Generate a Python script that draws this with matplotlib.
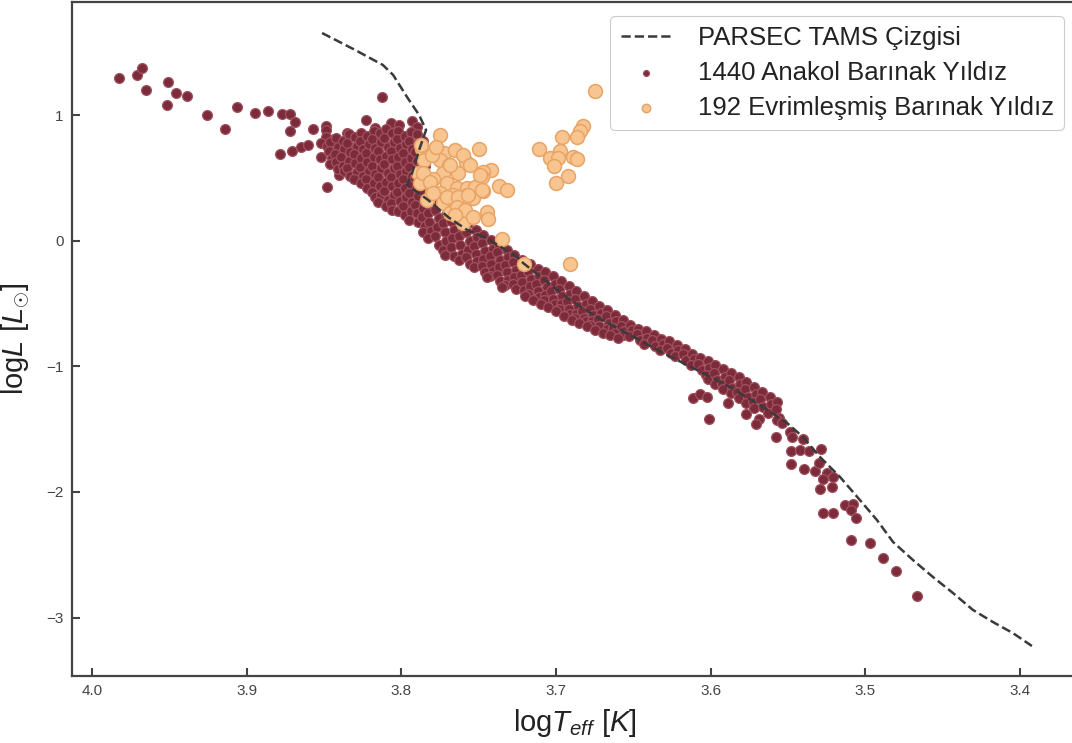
import matplotlib
matplotlib.use("Agg")
import matplotlib.pyplot as plt
import numpy as np

# PARSEC TAMS line (logTeff, logL)
tams_logt = [3.8513, 3.830, 3.812, 3.8054, 3.7964, 3.7886, 3.7841, 3.7886, 3.7931,
             3.7964, 3.7828, 3.7699, 3.7576, 3.7453, 3.7253, 3.7214, 3.691, 3.6736,
             3.6522, 3.6309, 3.6089, 3.5876, 3.5663, 3.5507, 3.5404, 3.5294, 3.5165,
             3.5036, 3.4926, 3.4822, 3.4693, 3.4564, 3.4434, 3.4305, 3.4176, 3.4047,
             3.3924]
tams_logl = [1.657, 1.522, 1.402, 1.323, 1.147, 1.004, 0.884, 0.725, 0.542,
             0.446, 0.327, 0.191, 0.088, 0.024, -0.127, -0.175, -0.470, -0.606,
             -0.749, -0.892, -1.028, -1.163, -1.323, -1.450, -1.562, -1.721, -1.880,
             -2.064, -2.223, -2.398, -2.542, -2.677, -2.805, -2.940, -3.036, -3.124,
             -3.227]

# hot, luminous main-sequence stragglers
hot_stars = [
    (3.9825, 1.299), (3.9709, 1.323), (3.9677, 1.378), (3.9651, 1.203), (3.9509, 1.267),
    (3.9515, 1.084), (3.9457, 1.179), (3.9386, 1.155), (3.9257, 1.004), (3.914, 0.892),
    (3.9063, 1.068), (3.8946, 1.020), (3.8862, 1.036), (3.8772, 1.012), (3.872, 1.012),
    (3.8688, 0.948), (3.872, 0.876), (3.8785, 0.693), (3.8707, 0.717), (3.8649, 0.749),
    (3.8604, 0.765), (3.8571, 0.892), (3.8487, 0.916), (3.8487, 0.884), (3.8487, 0.829),
    (3.852, 0.781), (3.8481, 0.757), (3.8436, 0.813), (3.852, 0.669), (3.8481, 0.430),
    (3.8403, 0.526), (3.8125, 1.147), (3.8229, 0.964), (3.8067, 0.940), (3.8015, 0.924),
    (3.7931, 0.956), (3.7899, 0.908), (3.8110, 0.870), (3.8170, 0.900), (3.8350, 0.860),
]

# dense upper part of the main sequence
upper_core = [
    (3.846, 0.79), (3.847, 0.72), (3.845, 0.66), (3.846, 0.61),
    (3.842, 0.82), (3.841, 0.75), (3.843, 0.69), (3.842, 0.63), (3.841, 0.57),
    (3.838, 0.80), (3.837, 0.73), (3.839, 0.67), (3.838, 0.60), (3.837, 0.56),
    (3.834, 0.85), (3.835, 0.78), (3.833, 0.71), (3.834, 0.64), (3.835, 0.58), (3.833, 0.52),
    (3.830, 0.83), (3.829, 0.76), (3.831, 0.69), (3.830, 0.62), (3.829, 0.55), (3.831, 0.49),
    (3.826, 0.86), (3.827, 0.80), (3.825, 0.73), (3.826, 0.66), (3.827, 0.59), (3.825, 0.52),
    (3.826, 0.46),
    (3.822, 0.84), (3.821, 0.77), (3.823, 0.70), (3.822, 0.63), (3.821, 0.56), (3.823, 0.49),
    (3.822, 0.42),
    (3.818, 0.88), (3.819, 0.81), (3.817, 0.74), (3.818, 0.67), (3.819, 0.60), (3.817, 0.53),
    (3.818, 0.46), (3.819, 0.39), (3.817, 0.35),
    (3.814, 0.86), (3.813, 0.79), (3.815, 0.72), (3.814, 0.65), (3.813, 0.58), (3.815, 0.51),
    (3.814, 0.44), (3.813, 0.37), (3.815, 0.31),
    (3.810, 0.89), (3.811, 0.82), (3.809, 0.75), (3.810, 0.68), (3.811, 0.61), (3.809, 0.54),
    (3.810, 0.47), (3.811, 0.40), (3.809, 0.33), (3.810, 0.28),
    (3.806, 0.86), (3.805, 0.79), (3.807, 0.72), (3.806, 0.65), (3.805, 0.58), (3.807, 0.51),
    (3.806, 0.44), (3.805, 0.37), (3.807, 0.30), (3.806, 0.25),
    (3.802, 0.88), (3.803, 0.81), (3.801, 0.74), (3.802, 0.67), (3.803, 0.60), (3.801, 0.53),
    (3.802, 0.46), (3.803, 0.39), (3.801, 0.32), (3.802, 0.24),
    (3.798, 0.84), (3.797, 0.77), (3.799, 0.70), (3.798, 0.63), (3.797, 0.56), (3.799, 0.49),
    (3.798, 0.42), (3.797, 0.35), (3.799, 0.28), (3.798, 0.21),
    (3.794, 0.87), (3.795, 0.80), (3.793, 0.73), (3.794, 0.66), (3.795, 0.59), (3.793, 0.52),
    (3.794, 0.45), (3.795, 0.38), (3.793, 0.31), (3.794, 0.24), (3.795, 0.17),
    (3.790, 0.85), (3.789, 0.78), (3.791, 0.71), (3.790, 0.64), (3.789, 0.57), (3.791, 0.50),
    (3.790, 0.43), (3.789, 0.36), (3.791, 0.29), (3.790, 0.22), (3.789, 0.15),
    (3.786, 0.80), (3.787, 0.72), (3.785, 0.60), (3.786, 0.48), (3.787, 0.40), (3.785, 0.33),
    (3.786, 0.26), (3.787, 0.19), (3.785, 0.12), (3.786, 0.07),
]

# main-sequence band towards the cool end
band_core = [
    (3.782, 0.36), (3.781, 0.29), (3.783, 0.22), (3.782, 0.15), (3.781, 0.08), (3.783, 0.02),
    (3.777, 0.32), (3.778, 0.25), (3.776, 0.18), (3.777, 0.11), (3.778, 0.04), (3.776, -0.03),
    (3.772, 0.28), (3.771, 0.21), (3.773, 0.14), (3.772, 0.07), (3.771, 0.00), (3.773, -0.07),
    (3.772, -0.11),
    (3.767, 0.23), (3.768, 0.16), (3.766, 0.09), (3.767, 0.02), (3.768, -0.05), (3.766, -0.12),
    (3.762, 0.18), (3.761, 0.11), (3.763, 0.04), (3.762, -0.03), (3.761, -0.10), (3.763, -0.15),
    (3.757, 0.14), (3.758, 0.07), (3.756, 0.00), (3.757, -0.07), (3.758, -0.13), (3.756, -0.18),
    (3.752, 0.09), (3.751, 0.03), (3.753, -0.04), (3.752, -0.10), (3.751, -0.16), (3.753, -0.21),
    (3.747, 0.05), (3.748, -0.02), (3.746, -0.08), (3.747, -0.14), (3.748, -0.20), (3.746, -0.25),
    (3.742, 0.01), (3.741, -0.06), (3.743, -0.12), (3.742, -0.18), (3.741, -0.24), (3.743, -0.28),
    (3.737, -0.03), (3.738, -0.09), (3.736, -0.15), (3.737, -0.21), (3.738, -0.27), (3.736, -0.32),
    (3.732, -0.07), (3.731, -0.13), (3.733, -0.19), (3.732, -0.25), (3.731, -0.31), (3.733, -0.35),
    (3.727, -0.11), (3.728, -0.17), (3.726, -0.23), (3.727, -0.29), (3.728, -0.34), (3.726, -0.38),
    (3.722, -0.15), (3.721, -0.21), (3.723, -0.27), (3.722, -0.33), (3.721, -0.39),
    (3.717, -0.18), (3.718, -0.24), (3.716, -0.30), (3.717, -0.36), (3.718, -0.42),
    (3.712, -0.22), (3.711, -0.28), (3.713, -0.34), (3.712, -0.40), (3.711, -0.45),
    (3.707, -0.25), (3.708, -0.31), (3.706, -0.37), (3.707, -0.43), (3.708, -0.47),
    (3.702, -0.28), (3.701, -0.34), (3.703, -0.40), (3.702, -0.46), (3.701, -0.50),
    (3.697, -0.32), (3.698, -0.38), (3.696, -0.44), (3.697, -0.50), (3.698, -0.54),
    (3.692, -0.36), (3.691, -0.42), (3.693, -0.48), (3.692, -0.54), (3.691, -0.58),
    (3.687, -0.40), (3.688, -0.46), (3.686, -0.52), (3.687, -0.58), (3.688, -0.61),
    (3.682, -0.44), (3.681, -0.50), (3.683, -0.56), (3.682, -0.61), (3.681, -0.64),
    (3.677, -0.48), (3.678, -0.54), (3.676, -0.59), (3.677, -0.64), (3.678, -0.67),
    (3.672, -0.52), (3.671, -0.57), (3.673, -0.62), (3.672, -0.68),
    (3.667, -0.55), (3.668, -0.60), (3.666, -0.65), (3.667, -0.70),
    (3.662, -0.59), (3.661, -0.64), (3.663, -0.69), (3.662, -0.73),
    (3.657, -0.63), (3.658, -0.68), (3.656, -0.72), (3.657, -0.75),
    (3.652, -0.67), (3.651, -0.71), (3.653, -0.76),
    (3.647, -0.70), (3.648, -0.74), (3.646, -0.79),
    (3.642, -0.72), (3.641, -0.77), (3.643, -0.82),
    (3.637, -0.75), (3.638, -0.79), (3.636, -0.84),
    (3.632, -0.78), (3.631, -0.82), (3.633, -0.87),
    (3.627, -0.80), (3.628, -0.85), (3.626, -0.89),
    (3.622, -0.83), (3.621, -0.87), (3.623, -0.92),
    (3.617, -0.86), (3.618, -0.90), (3.616, -0.95),
    (3.612, -0.90), (3.611, -0.94), (3.613, -0.99),
    (3.607, -0.93), (3.608, -0.98), (3.606, -1.03),
    (3.602, -0.96), (3.601, -1.01), (3.603, -1.07), (3.602, -1.10),
    (3.597, -0.99), (3.598, -1.05), (3.596, -1.11), (3.597, -1.14),
    (3.592, -1.02), (3.591, -1.08), (3.593, -1.14), (3.592, -1.18),
    (3.587, -1.05), (3.588, -1.11), (3.586, -1.17), (3.587, -1.21),
    (3.582, -1.08), (3.581, -1.14), (3.583, -1.20), (3.582, -1.25),
    (3.577, -1.12), (3.578, -1.18), (3.576, -1.24), (3.577, -1.29),
    (3.572, -1.16), (3.571, -1.22), (3.573, -1.28), (3.572, -1.33),
    (3.567, -1.20), (3.568, -1.26), (3.566, -1.32),
    (3.562, -1.24), (3.561, -1.30), (3.563, -1.37),
    (3.557, -1.28), (3.558, -1.34), (3.556, -1.41),
]

# lower edge of the band between 3.72 and 3.66
band_lower = [
    (3.720, -0.44), (3.715, -0.47), (3.710, -0.50), (3.705, -0.53), (3.700, -0.56),
    (3.695, -0.60), (3.690, -0.63), (3.685, -0.65), (3.680, -0.68), (3.675, -0.71),
    (3.670, -0.73), (3.665, -0.75), (3.660, -0.77), (3.745, -0.29), (3.735, -0.37),
]

# cool, faint stars below the band
cool_stars = [
    (3.6115, -1.251), (3.607, -1.219), (3.6025, -1.243), (3.6012, -1.418), (3.5889, -1.291),
    (3.5772, -1.378), (3.5688, -1.418), (3.5708, -1.458), (3.5579, -1.562), (3.5488, -1.522),
    (3.5475, -1.562), (3.5404, -1.578), (3.5482, -1.673), (3.5423, -1.665), (3.5365, -1.673),
    (3.5288, -1.657), (3.5482, -1.777), (3.5398, -1.817), (3.5326, -1.833), (3.5301, -1.769),
    (3.5249, -1.849), (3.521, -1.880), (3.5275, -1.896), (3.5217, -1.960), (3.5294, -1.976),
    (3.5133, -2.104), (3.5081, -2.096), (3.5094, -2.143), (3.5061, -2.207), (3.5275, -2.167),
    (3.521, -2.167), (3.5094, -2.382), (3.4971, -2.406), (3.4887, -2.526), (3.4803, -2.629),
    (3.4667, -2.829), (3.5572, -1.426), (3.554, -1.450),
]

# evolved stars
evolved_stars = [
    (3.775, 0.845), (3.7498, 0.733), (3.7582, 0.629), (3.7421, 0.566), (3.7473, 0.550),
    (3.7479, 0.510), (3.7369, 0.438), (3.7317, 0.406), (3.7473, 0.398), (3.7447, 0.231),
    (3.744, 0.175), (3.735, 0.016), (3.7207, -0.183), (3.691, -0.183),
    (3.6749, 1.195), (3.6826, 0.916), (3.6846, 0.876), (3.6865, 0.829), (3.6962, 0.829),
    (3.7111, 0.733), (3.6975, 0.717), (3.7039, 0.661), (3.6988, 0.661), (3.7014, 0.598),
    (3.6891, 0.669), (3.6865, 0.653), (3.6923, 0.518), (3.7001, 0.462),
    (3.7867, 0.733), (3.7815, 0.701), (3.7725, 0.701), (3.7854, 0.645), (3.775, 0.645),
    (3.7692, 0.606), (3.7634, 0.542), (3.7731, 0.542), (3.7796, 0.494), (3.7893, 0.542),
    (3.788, 0.462), (3.7705, 0.462), (3.7641, 0.422), (3.7576, 0.422), (3.7524, 0.430),
    (3.7802, 0.390), (3.775, 0.382), (3.7666, 0.367), (3.7576, 0.367), (3.7537, 0.343),
    (3.7731, 0.303), (3.7653, 0.271), (3.7602, 0.223), (3.755, 0.191), (3.7602, 0.143),
    (3.7686, 0.223), (3.7835, 0.327), (3.7802, 0.685), (3.7686, 0.606), (3.7479, 0.406),
    (3.786, 0.542), (3.7815, 0.470), (3.7796, 0.382), (3.7705, 0.351), (3.7634, 0.351),
    (3.757, 0.367), (3.764, 0.271), (3.7589, 0.247), (3.7537, 0.191), (3.7653, 0.207),
    (3.7873, 0.765), (3.7776, 0.749), (3.7653, 0.725), (3.760, 0.685), (3.7557, 0.606),
    (3.7492, 0.526),
]

ms_stars = np.array(hot_stars + upper_core + band_core + band_lower + cool_stars)
ev_stars = np.array(evolved_stars)

plt.rcParams["font.family"] = ["Liberation Sans", "DejaVu Sans"]
plt.rcParams["mathtext.fontset"] = "custom"
plt.rcParams["mathtext.rm"] = "Liberation Sans"
plt.rcParams["mathtext.it"] = "Liberation Sans:italic"

fig = plt.figure(figsize=(10.72, 7.43), dpi=100)
ax = fig.add_axes([72 / 1072, 67 / 743, 1006 / 1072, 674 / 743])

ax.plot(tams_logt, tams_logl, ls="--", lw=1.8, color="#3a3a3a",
        label="PARSEC TAMS Çizgisi", zorder=4)
ax.scatter(ms_stars[:, 0], ms_stars[:, 1], s=50, color="#7b2b3a",
           edgecolors="#a0505e", linewidths=0.9, zorder=2,
           label="1440 Anakol Barınak Yıldız")
ax.scatter(ev_stars[:, 0], ev_stars[:, 1], s=100, color="#f8c48f",
           edgecolors="#e8a466", linewidths=1.1, zorder=3,
           label="192 Evrimleşmiş Barınak Yıldız")

ax.set_xlim(4.013, 3.3626)
ax.set_ylim(-3.466, 1.904)
ax.set_xticks([4.0, 3.9, 3.8, 3.7, 3.6, 3.5, 3.4])
ax.set_yticks([-3, -2, -1, 0, 1])

ax.set_xlabel(r"$\mathrm{log}T_{eff}\ [K]$", fontsize=21, color="#222222", labelpad=6)
ax.set_ylabel(r"$\mathrm{log}L\ [L_{\odot}]$", fontsize=21, color="#222222", labelpad=10)

for side in ["left", "bottom", "top", "right"]:
    ax.spines[side].set_color("#444444")
    ax.spines[side].set_linewidth(1.6)
ax.tick_params(direction="in", length=6, width=1.5, color="#444444",
               labelsize=11, labelcolor="#444444", pad=6)

leg = ax.legend(loc="upper right", fontsize=18.5, markerscale=0.6,
                frameon=True, fancybox=True, framealpha=1.0, labelspacing=0.42,
                handlelength=2.0, handletextpad=1.0,
                edgecolor="#cccccc", borderaxespad=0.55)
leg.get_frame().set_linewidth(0.8)
for txt in leg.get_texts():
    txt.set_color("#222222")

fig.savefig("out.png", dpi=100)
